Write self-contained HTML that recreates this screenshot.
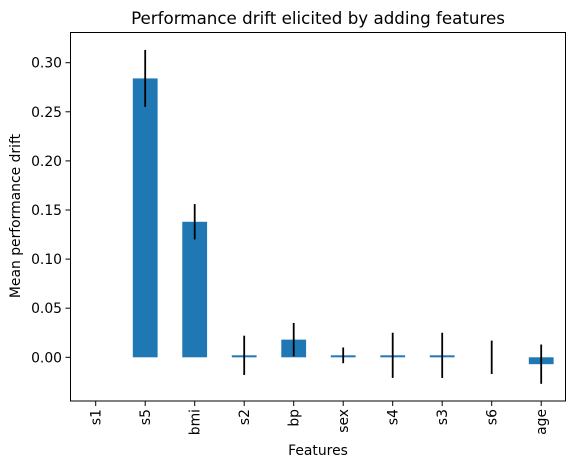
<!DOCTYPE html>
<html><head><meta charset="utf-8"><style>
body{margin:0;background:#fff;}
svg text{font-family:"DejaVu Sans","Liberation Sans",sans-serif;fill:#000;}
</style></head><body>
<svg id="chart" width="576" height="467" xmlns="http://www.w3.org/2000/svg">
<text x="318" y="24" font-size="16.7" text-anchor="middle">Performance drift elicited by adding features</text>
<g id="plot"></g>
<rect x="70.5" y="32.5" width="495" height="368.5" fill="none" stroke="#000" stroke-width="1"/>
<text x="318" y="455" font-size="13.9" text-anchor="middle">Features</text>
<text transform="translate(20,216) rotate(-90)" font-size="13.9" text-anchor="middle">Mean performance drift</text>
</svg>
<script>
const categories=["s1","s5","bmi","s2","bp","sex","s4","s3","s6","age"];
const values=[0,0.284,0.138,0.002,0.018,0.002,0.002,0.002,0,-0.007];
const errors=[0,0.029,0.018,0.02,0.017,0.008,0.023,0.023,0.017,0.02];
const yTicks=[0,0.05,0.10,0.15,0.20,0.25,0.30];
const yTickLabels=["0.00","0.05","0.10","0.15","0.20","0.25","0.30"];
const NS="http://www.w3.org/2000/svg";
const g=document.getElementById('plot');
const y=v=>357.3-v*982;
const x=i=>95.7+i*49.5;
function mk(t,a){const e=document.createElementNS(NS,t);for(const k in a)e.setAttribute(k,a[k]);g.appendChild(e);return e;}
yTicks.forEach((t,i)=>{
 const l=mk('line',{x1:65.5,x2:70,y1:y(t),y2:y(t),stroke:'#000'});
 
 
 const tx=mk('text',{x:62,y:y(t)+5,'font-size':13.9,'text-anchor':'end'});
 tx.textContent=yTickLabels[i];
 
 
});
categories.forEach((c,i)=>{
 const v=values[i],cx=x(i);
 if(v!==0){
  const top=Math.min(y(v),y(0)),h=Math.abs(y(v)-y(0));
  const b=mk('rect',{x:cx-12.4,y:top,width:24.8,height:Math.max(h,1.5),fill:'#1f77b4'});
  
  
 }
 if(errors[i]>0){
  const e=mk('line',{x1:cx,x2:cx,y1:y(v+errors[i]),y2:y(v-errors[i]),stroke:'#000','stroke-width':1.8});
  
  
 }
 const tk=mk('line',{x1:cx,x2:cx,y1:401,y2:406,stroke:'#000'});
 
 
 const tx=mk('text',{transform:`translate(${cx+5},409) rotate(-90)`,'font-size':13.9,'text-anchor':'end'});
 tx.textContent=c;
 
 
});
</script>
</body></html>
